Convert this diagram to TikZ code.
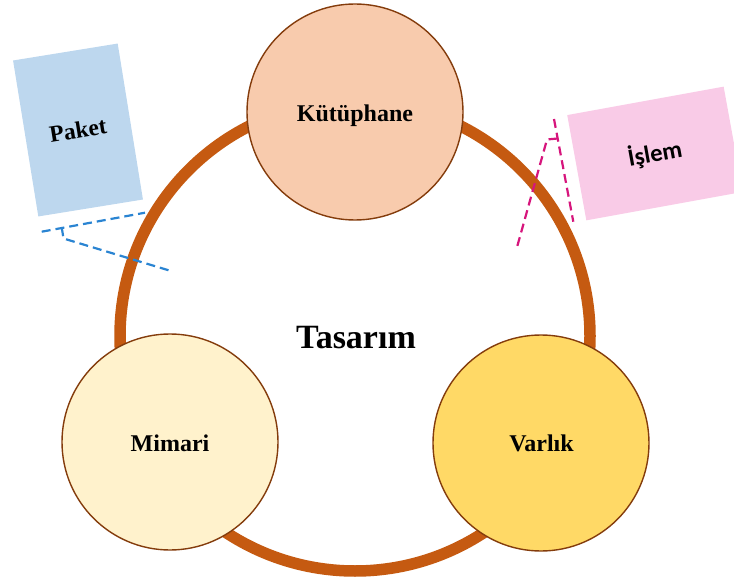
\documentclass[tikz,border=0pt]{standalone}
\usepackage{fontspec}
\setmainfont{Liberation Serif}
\newfontfamily\calibrilike{Carlito}
\definecolor{ringorange}{HTML}{C55A11}
\definecolor{topicedge}{HTML}{843C0C}
\definecolor{libfill}{HTML}{F8CBAD}
\definecolor{archfill}{HTML}{FFF2CC}
\definecolor{entityfill}{HTML}{FFD966}
\definecolor{paketblue}{HTML}{BDD7EE}
\definecolor{islempink}{HTML}{F9CBE7}
\definecolor{calloutblue}{HTML}{2A84D2}
\definecolor{calloutpink}{HTML}{D6157C}
\begin{document}
\begin{tikzpicture}[x=1pt,y=-1pt,
  ring/.style={draw=ringorange, line width=11.5pt},
  topic/.style={circle, draw=topicedge, line width=1.4pt, minimum size=216pt, inner sep=0pt},
  topiclabel/.style={font=\bfseries\fontsize{24}{28}\selectfont, anchor=base, inner sep=0pt},
  card/.style={inner sep=0pt, draw=none},
  callout/.style={dash pattern=on 9pt off 5pt, line width=2.2pt}
]
\useasboundingbox (0,0) rectangle (734,580);

% outer ring joining the three topics
\draw[ring] (355,336) circle[radius=235];

% topic circles
\node[topic, fill=libfill] (lib) at (355,112) {};
\node[topic, fill=archfill] (arch) at (170,442) {};
\node[topic, fill=entityfill] (ent) at (541,443) {};

\node[topiclabel] (libtext) at (355,121.5) {Kütüphane};
\node[topiclabel] (archtext) at (170,451.5) {Mimari};
\node[topiclabel] (enttext) at (541.5,451.5) {Varlık};
\node[font=\bfseries\fontsize{34}{40}\selectfont, anchor=base, inner sep=0pt] (center) at (356,348) {Tasarım};

% side cards
\node[card, fill=paketblue, minimum width=106pt, minimum height=158pt, rotate=9.2,
      font=\bfseries\fontsize{23.5}{28}\selectfont] (paket) at (78,130) {Paket};
\node[card, fill=islempink, minimum width=159pt, minimum height=107pt, rotate=10.3,
      font=\calibrilike\bfseries\fontsize{24.5}{29}\selectfont] (islem) at (655,153.5) {İşlem};

% callout for Paket
\coordinate (pkA) at (41.7,231.7);
\coordinate (pkB) at (145,212.7);
\coordinate (pkT) at (61.7,227.3);
\coordinate (pkK) at (63.5,238.5);
\coordinate (pkE) at (170,270.7);
\draw[callout, draw=calloutblue] (pkA) -- (pkB);
\draw[callout, draw=calloutblue] (pkT) -- (pkK) -- (pkE);

% callout for İşlem
\coordinate (isA) at (554,119);
\coordinate (isB) at (573.3,221.7);
\coordinate (isT) at (557.5,138.5);
\coordinate (isK) at (547,139.5);
\coordinate (isE) at (516.7,248.3);
\draw[callout, draw=calloutpink] (isA) -- (isB);
\draw[callout, draw=calloutpink] (isT) -- (isK) -- (isE);
\end{tikzpicture}
\end{document}
